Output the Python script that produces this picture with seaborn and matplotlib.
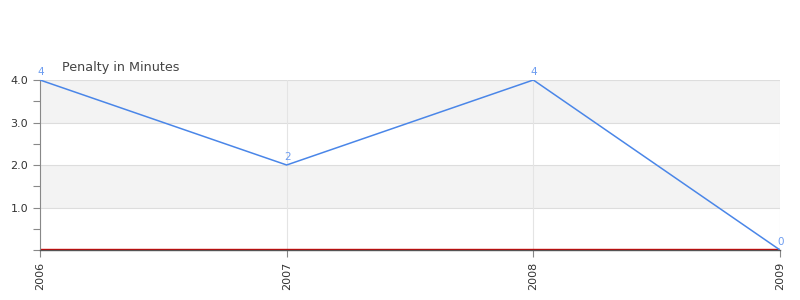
import matplotlib
matplotlib.use("Agg")
import matplotlib.pyplot as plt
import seaborn as sns
import pandas as pd
from matplotlib.ticker import MultipleLocator

years = ["2006", "2007", "2008", "2009"]
penalty = [4, 2, 4, 0]
title = "Penalty in Minutes"

sns.set_theme(style="white")
plt.rcParams['font.family'] = ['DejaVu Sans']

df = pd.DataFrame({"x": range(len(years)), "year": years, "pim": penalty})

fig = plt.figure(figsize=(8, 3), dpi=100)
ax = fig.add_axes([40/800, 50/300, 740/800, 170/300])

# alternating bands
for lo in [1, 3]:
    ax.axhspan(lo, lo + 1, color="#f3f3f3", zorder=0, lw=0)
for yv in [1, 2, 3, 4]:
    ax.axhline(yv, color="#dddddd", lw=0.8, zorder=1)
for xv in range(len(years)):
    ax.axvline(xv, color="#e4e4e4", lw=0.8, zorder=1)

sns.lineplot(data=df, x="x", y="pim", ax=ax, color="#4a86e8", lw=1.1, zorder=3)
ax.axhline(0.012, color="#cc0000", lw=1.0, zorder=2)

for xi, v in zip(df["x"], df["pim"]):
    ax.annotate(str(v), (xi, v), xytext=(-2, 2), textcoords="offset points",
                color="#6c9cf0", fontsize=7.5, ha="left", va="bottom", zorder=4)

ax.set_xlim(0, len(years) - 1)
ax.set_ylim(0, 4)
ax.set_xticks(range(len(years)))
ax.set_xticklabels(years, rotation=90, fontsize=8, color="#333333")
ax.set_yticks([1, 2, 3, 4])
ax.set_yticklabels(["1.0", "2.0", "3.0", "4.0"], fontsize=8, color="#333333")
ax.yaxis.set_minor_locator(MultipleLocator(0.5))
ax.tick_params(axis="y", which="both", left=True, length=5, color="#888888", width=0.8)
ax.tick_params(axis="x", which="both", bottom=True, length=5, color="#888888", width=0.8)
ax.set_xlabel("")
ax.set_ylabel("")

for s in ["top", "right"]:
    ax.spines[s].set_visible(False)
ax.spines["left"].set_color("#888888")
ax.spines["left"].set_linewidth(0.8)
ax.spines["bottom"].set_color("#555555")
ax.spines["bottom"].set_linewidth(1.0)

fig.text(62/800, 1 - 67/300, title, fontsize=9.2, color="#444444", ha="left", va="center")

fig.savefig("out.png", dpi=100)
